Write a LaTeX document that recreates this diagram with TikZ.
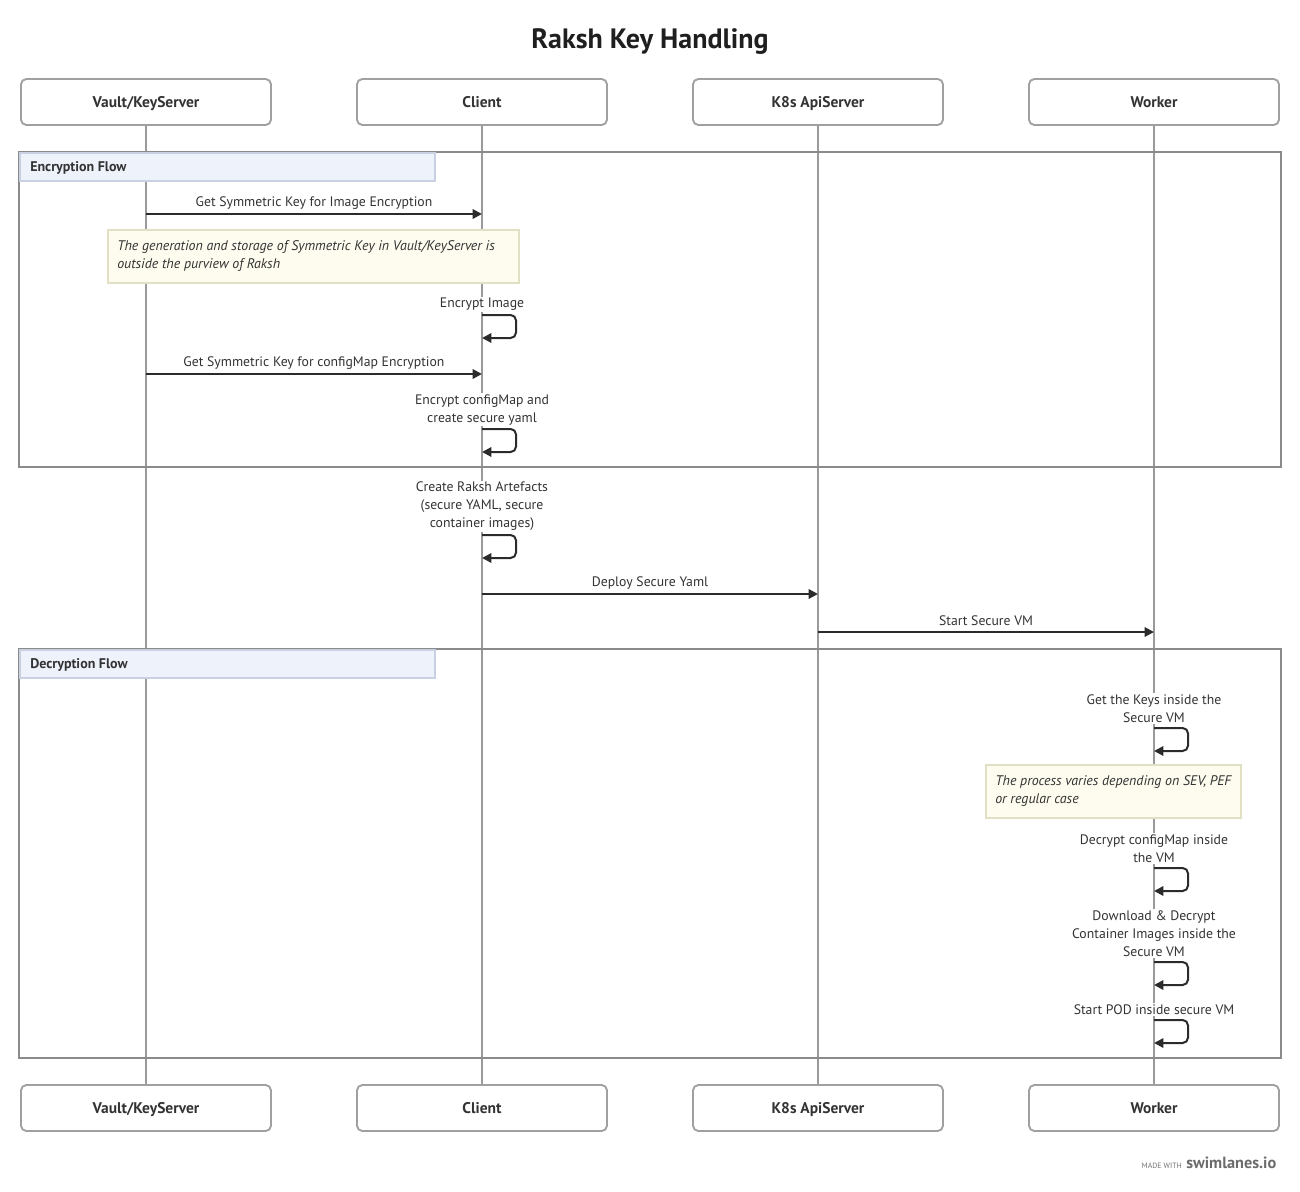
\documentclass[tikz,border=0pt]{standalone}
\usepackage{fontspec}
\setmainfont{PT Sans}
\usetikzlibrary{arrows.meta}
\definecolor{txt}{HTML}{333333}
\definecolor{boxgray}{HTML}{A0A0A0}
\definecolor{lifegray}{HTML}{9A9A9A}
\definecolor{framegray}{HTML}{8A8A8A}
\definecolor{hdrfill}{HTML}{EEF2FB}
\definecolor{hdrdraw}{HTML}{C8D0E2}
\definecolor{notefill}{HTML}{FDFCEF}
\definecolor{notedraw}{HTML}{E2E0C4}
\definecolor{msgcol}{HTML}{2B2B2B}
\begin{document}
\begin{tikzpicture}[x=0.75pt,y=-0.75pt,
  part/.style={draw=boxgray, line width=1.4pt, rounded corners=4pt, fill=white,
    minimum width=187.5pt, minimum height=34.5pt, inner sep=0pt,
    text height=8pt, text depth=0pt,
    font=\bfseries\fontsize{11.6}{13}\selectfont, text=txt},
  life/.style={draw=lifegray, line width=1.5pt},
  frame/.style={draw=framegray, line width=1.5pt},
  hdr/.style={draw=hdrdraw, line width=0.8pt, fill=hdrfill},
  hdrtext/.style={anchor=west, inner sep=0pt, text height=7pt, text depth=0pt,
    font=\bfseries\fontsize{10.5}{12}\selectfont, text=txt},
  lbl/.style={fill=white, inner sep=1pt, align=center, text=txt, yshift=-1.2pt,
    font=\fontsize{10.3}{13.5}\selectfont},
  msg/.style={draw=msgcol, line width=1.5pt, -{Triangle[length=7pt,width=7pt]}},
  loop/.style={draw=msgcol, line width=1.5pt, rounded corners=4pt, -{Triangle[length=7pt,width=7pt]}},
  note/.style={draw=notedraw, line width=0.8pt, fill=notefill},
  notetext/.style={anchor=north west, inner sep=0pt, align=left, text=txt,
    font=\itshape\fontsize{10.45}{13.5}\selectfont}
]
\useasboundingbox (0,0) rectangle (1300,1192);
\fill[white] (0,0) rectangle (1300,1192);

% title
\node[font=\bfseries\fontsize{21}{24}\selectfont, text=black!88, text height=14pt, text depth=0pt] (title) at (650,39) {Raksh Key Handling};

% participants
\node[part] (vt) at (146,102) {Vault/KeyServer};
\node[part] (ct) at (482,102) {Client};
\node[part] (kt) at (818,102) {K8s ApiServer};
\node[part] (wt) at (1154,102) {Worker};
\node[part] (vb) at (146,1108) {Vault/KeyServer};
\node[part] (cb) at (482,1108) {Client};
\node[part] (kb) at (818,1108) {K8s ApiServer};
\node[part] (wb) at (1154,1108) {Worker};

% lifelines
\draw[life] (vt.south) -- (vb.north);
\draw[life] (ct.south) -- (cb.north);
\draw[life] (kt.south) -- (kb.north);
\draw[life] (wt.south) -- (wb.north);

% groups
\draw[frame] (19,152) rectangle (1281,467);
\draw[hdr] (20,153) rectangle (435,181);
\node[hdrtext] (g1) at (30,167) {Encryption Flow};

\draw[frame] (19,649) rectangle (1281,1058);
\draw[hdr] (20,650) rectangle (435,678);
\node[hdrtext] (g2) at (30,664) {Decryption Flow};

% message 1
\coordinate (m1a) at (146,214); \coordinate (m1b) at (482,214);
\node[lbl] (t1) at (314,201) {Get Symmetric Key for Image Encryption};
\draw[msg] (m1a) -- (m1b);

% note 1
\draw[note] (108,230) rectangle (519,283);
\node[notetext] (n1) at (117,240.5) {The generation and storage of Symmetric Key in Vault/KeyServer is\\outside the purview of Raksh};

% self loop: encrypt image
\node[lbl] (t2) at (482,303) {Encrypt Image};
\coordinate (s1a) at (482,315); \coordinate (s1b) at (482,338);
\draw[loop] (s1a) -- (516,315) -- (516,338) -- (s1b);

% message 2
\coordinate (m2a) at (146,374); \coordinate (m2b) at (482,374);
\node[lbl] (t3) at (314,361) {Get Symmetric Key for configMap Encryption};
\draw[msg] (m2a) -- (m2b);

% self loop: configmap
\node[lbl] (t4) at (482,408) {Encrypt configMap and\\create secure yaml};
\coordinate (s2a) at (482,429); \coordinate (s2b) at (482,452);
\draw[loop] (s2a) -- (516,429) -- (516,452) -- (s2b);

% self loop: artefacts
\node[lbl] (t5) at (482,505) {Create Raksh Artefacts\\(secure YAML, secure\\container images)};
\coordinate (s3a) at (482,535); \coordinate (s3b) at (482,558);
\draw[loop] (s3a) -- (516,535) -- (516,558) -- (s3b);

% deploy
\coordinate (m3a) at (482,594); \coordinate (m3b) at (818,594);
\node[lbl] (t6) at (650,581) {Deploy Secure Yaml};
\draw[msg] (m3a) -- (m3b);

% start VM
\coordinate (m4a) at (818,632); \coordinate (m4b) at (1154,632);
\node[lbl] (t7) at (986,619) {Start Secure VM};
\draw[msg] (m4a) -- (m4b);

% get keys
\node[lbl] (t8) at (1154,707) {Get the Keys inside the\\Secure VM};
\coordinate (s4a) at (1154,728); \coordinate (s4b) at (1154,751);
\draw[loop] (s4a) -- (1188,728) -- (1188,751) -- (s4b);

% note 2
\draw[note] (986,765) rectangle (1241,818);
\node[notetext] (n2) at (995,775.5) {The process varies depending on SEV, PEF\\or regular case};

% decrypt configmap
\node[lbl] (t9) at (1154,847) {Decrypt configMap inside\\the VM};
\coordinate (s5a) at (1154,868); \coordinate (s5b) at (1154,891);
\draw[loop] (s5a) -- (1188,868) -- (1188,891) -- (s5b);

% download
\node[lbl] (t10) at (1154,932) {Download \& Decrypt\\Container Images inside the\\Secure VM};
\coordinate (s6a) at (1154,962); \coordinate (s6b) at (1154,985);
\draw[loop] (s6a) -- (1188,962) -- (1188,985) -- (s6b);

% start pod
\node[lbl] (t11) at (1154,1008) {Start POD inside secure VM};
\coordinate (s7a) at (1154,1020); \coordinate (s7b) at (1154,1043);
\draw[loop] (s7a) -- (1188,1020) -- (1188,1043) -- (s7b);

% footer
\node[anchor=east, inner sep=0pt, text=black!55, font=\fontsize{5.8}{6}\selectfont] (made) at (1182,1165.5) {MADE WITH};
\node[anchor=west, inner sep=0pt, text=black!58, font=\bfseries\fontsize{12.2}{13}\selectfont] (sw) at (1186,1163) {swimlanes.io};
\end{tikzpicture}
\end{document}
